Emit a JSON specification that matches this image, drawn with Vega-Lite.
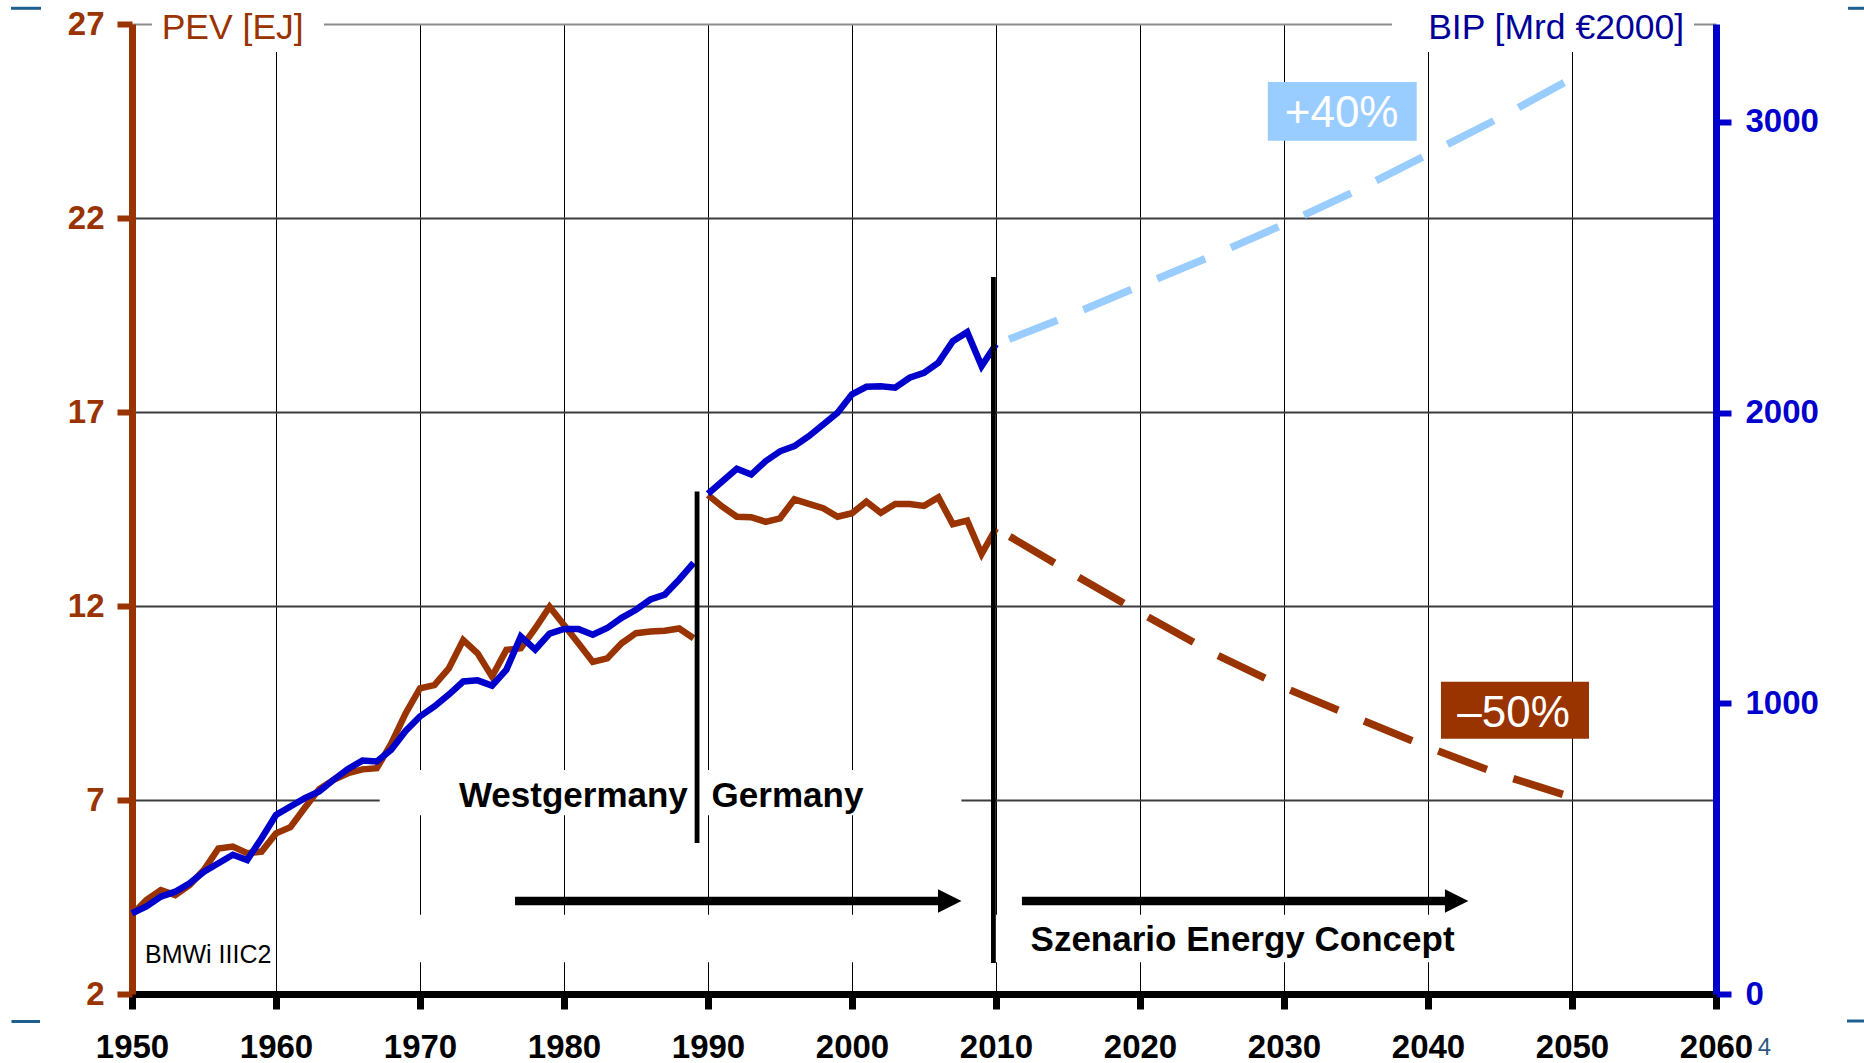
{
  "$schema": "https://vega.github.io/schema/vega-lite/v6.json",
  "width": 1584,
  "height": 970,
  "autosize": {"type": "none"},
  "padding": {"left": 132, "top": 24, "right": 148, "bottom": 69},
  "background": "white",
  "config": {"view": {"stroke": null}, "font": "Liberation Sans"},
  "datasets": {
    "pev": [
      {"year": 1950, "pev": 4.04, "seg": "West"}, {"year": 1951, "pev": 4.42, "seg": "West"}, {"year": 1952, "pev": 4.68, "seg": "West"}, {"year": 1953, "pev": 4.55, "seg": "West"}, {"year": 1954, "pev": 4.81, "seg": "West"},
      {"year": 1955, "pev": 5.2, "seg": "West"}, {"year": 1956, "pev": 5.75, "seg": "West"}, {"year": 1957, "pev": 5.8, "seg": "West"}, {"year": 1958, "pev": 5.63, "seg": "West"}, {"year": 1959, "pev": 5.67, "seg": "West"},
      {"year": 1960, "pev": 6.14, "seg": "West"}, {"year": 1961, "pev": 6.3, "seg": "West"}, {"year": 1962, "pev": 6.8, "seg": "West"}, {"year": 1963, "pev": 7.28, "seg": "West"}, {"year": 1964, "pev": 7.52, "seg": "West"},
      {"year": 1965, "pev": 7.69, "seg": "West"}, {"year": 1966, "pev": 7.79, "seg": "West"}, {"year": 1967, "pev": 7.82, "seg": "West"}, {"year": 1968, "pev": 8.45, "seg": "West"}, {"year": 1969, "pev": 9.23, "seg": "West"},
      {"year": 1970, "pev": 9.88, "seg": "West"}, {"year": 1971, "pev": 9.96, "seg": "West"}, {"year": 1972, "pev": 10.39, "seg": "West"}, {"year": 1973, "pev": 11.12, "seg": "West"}, {"year": 1974, "pev": 10.78, "seg": "West"},
      {"year": 1975, "pev": 10.18, "seg": "West"}, {"year": 1976, "pev": 10.87, "seg": "West"}, {"year": 1977, "pev": 10.91, "seg": "West"}, {"year": 1978, "pev": 11.42, "seg": "West"}, {"year": 1979, "pev": 11.98, "seg": "West"},
      {"year": 1980, "pev": 11.51, "seg": "West"}, {"year": 1981, "pev": 11.04, "seg": "West"}, {"year": 1982, "pev": 10.56, "seg": "West"}, {"year": 1983, "pev": 10.65, "seg": "West"}, {"year": 1984, "pev": 11.04, "seg": "West"},
      {"year": 1985, "pev": 11.3, "seg": "West"}, {"year": 1986, "pev": 11.34, "seg": "West"}, {"year": 1987, "pev": 11.36, "seg": "West"}, {"year": 1988, "pev": 11.42, "seg": "West"}, {"year": 1989, "pev": 11.17, "seg": "West"},
      {"year": 1990, "pev": 14.86, "seg": "Germany"}, {"year": 1991, "pev": 14.56, "seg": "Germany"}, {"year": 1992, "pev": 14.3, "seg": "Germany"}, {"year": 1993, "pev": 14.29, "seg": "Germany"}, {"year": 1994, "pev": 14.17, "seg": "Germany"},
      {"year": 1995, "pev": 14.26, "seg": "Germany"}, {"year": 1996, "pev": 14.75, "seg": "Germany"}, {"year": 1997, "pev": 14.63, "seg": "Germany"}, {"year": 1998, "pev": 14.52, "seg": "Germany"}, {"year": 1999, "pev": 14.3, "seg": "Germany"},
      {"year": 2000, "pev": 14.39, "seg": "Germany"}, {"year": 2001, "pev": 14.69, "seg": "Germany"}, {"year": 2002, "pev": 14.4, "seg": "Germany"}, {"year": 2003, "pev": 14.63, "seg": "Germany"}, {"year": 2004, "pev": 14.63, "seg": "Germany"},
      {"year": 2005, "pev": 14.58, "seg": "Germany"}, {"year": 2006, "pev": 14.8, "seg": "Germany"}, {"year": 2007, "pev": 14.11, "seg": "Germany"}, {"year": 2008, "pev": 14.2, "seg": "Germany"}, {"year": 2009, "pev": 13.34, "seg": "Germany"},
      {"year": 2010, "pev": 14.0, "seg": "Germany"},
      {"year": 2010, "pev": 14.0, "seg": "Scenario"}, {"year": 2015, "pev": 12.9, "seg": "Scenario"}, {"year": 2020, "pev": 11.83, "seg": "Scenario"}, {"year": 2025, "pev": 10.8, "seg": "Scenario"}, {"year": 2030, "pev": 9.9, "seg": "Scenario"},
      {"year": 2035, "pev": 9.12, "seg": "Scenario"}, {"year": 2040, "pev": 8.36, "seg": "Scenario"}, {"year": 2045, "pev": 7.66, "seg": "Scenario"}, {"year": 2050, "pev": 7.07, "seg": "Scenario"}
    ],
    "bip": [
      {"year": 1950, "bip": 278, "seg": "West"}, {"year": 1951, "bip": 301, "seg": "West"}, {"year": 1952, "bip": 335, "seg": "West"}, {"year": 1953, "bip": 352, "seg": "West"}, {"year": 1954, "bip": 381, "seg": "West"},
      {"year": 1955, "bip": 421, "seg": "West"}, {"year": 1956, "bip": 450, "seg": "West"}, {"year": 1957, "bip": 479, "seg": "West"}, {"year": 1958, "bip": 461, "seg": "West"}, {"year": 1959, "bip": 536, "seg": "West"},
      {"year": 1960, "bip": 616, "seg": "West"}, {"year": 1961, "bip": 645, "seg": "West"}, {"year": 1962, "bip": 674, "seg": "West"}, {"year": 1963, "bip": 697, "seg": "West"}, {"year": 1964, "bip": 737, "seg": "West"},
      {"year": 1965, "bip": 774, "seg": "West"}, {"year": 1966, "bip": 803, "seg": "West"}, {"year": 1967, "bip": 800, "seg": "West"}, {"year": 1968, "bip": 840, "seg": "West"}, {"year": 1969, "bip": 905, "seg": "West"},
      {"year": 1970, "bip": 955, "seg": "West"}, {"year": 1971, "bip": 989, "seg": "West"}, {"year": 1972, "bip": 1030, "seg": "West"}, {"year": 1973, "bip": 1075, "seg": "West"}, {"year": 1974, "bip": 1079, "seg": "West"},
      {"year": 1975, "bip": 1061, "seg": "West"}, {"year": 1976, "bip": 1116, "seg": "West"}, {"year": 1977, "bip": 1230, "seg": "West"}, {"year": 1978, "bip": 1185, "seg": "West"}, {"year": 1979, "bip": 1240, "seg": "West"},
      {"year": 1980, "bip": 1256, "seg": "West"}, {"year": 1981, "bip": 1256, "seg": "West"}, {"year": 1982, "bip": 1236, "seg": "West"}, {"year": 1983, "bip": 1259, "seg": "West"}, {"year": 1984, "bip": 1294, "seg": "West"},
      {"year": 1985, "bip": 1322, "seg": "West"}, {"year": 1986, "bip": 1357, "seg": "West"}, {"year": 1987, "bip": 1374, "seg": "West"}, {"year": 1988, "bip": 1426, "seg": "West"}, {"year": 1989, "bip": 1483, "seg": "West"},
      {"year": 1990, "bip": 1721, "seg": "Germany"}, {"year": 1991, "bip": 1764, "seg": "Germany"}, {"year": 1992, "bip": 1807, "seg": "Germany"}, {"year": 1993, "bip": 1787, "seg": "Germany"}, {"year": 1994, "bip": 1833, "seg": "Germany"},
      {"year": 1995, "bip": 1867, "seg": "Germany"}, {"year": 1996, "bip": 1885, "seg": "Germany"}, {"year": 1997, "bip": 1919, "seg": "Germany"}, {"year": 1998, "bip": 1959, "seg": "Germany"}, {"year": 1999, "bip": 2000, "seg": "Germany"},
      {"year": 2000, "bip": 2063, "seg": "Germany"}, {"year": 2001, "bip": 2089, "seg": "Germany"}, {"year": 2002, "bip": 2091, "seg": "Germany"}, {"year": 2003, "bip": 2086, "seg": "Germany"}, {"year": 2004, "bip": 2120, "seg": "Germany"},
      {"year": 2005, "bip": 2137, "seg": "Germany"}, {"year": 2006, "bip": 2172, "seg": "Germany"}, {"year": 2007, "bip": 2246, "seg": "Germany"}, {"year": 2008, "bip": 2277, "seg": "Germany"}, {"year": 2009, "bip": 2160, "seg": "Germany"},
      {"year": 2010, "bip": 2235, "seg": "Germany"},
      {"year": 2010, "bip": 2235, "seg": "Scenario"}, {"year": 2015, "bip": 2332, "seg": "Scenario"}, {"year": 2020, "bip": 2436, "seg": "Scenario"}, {"year": 2025, "bip": 2539, "seg": "Scenario"}, {"year": 2030, "bip": 2648, "seg": "Scenario"},
      {"year": 2035, "bip": 2763, "seg": "Scenario"}, {"year": 2040, "bip": 2889, "seg": "Scenario"}, {"year": 2045, "bip": 3015, "seg": "Scenario"}, {"year": 2050, "bip": 3150, "seg": "Scenario"}
    ]
  },
  "layer": [
    {
      "layer": [
        {
          "data": {"values": [
            {"x0": 1967.2, "x1": 2007.6, "y0": 7.77, "y1": 6.61},
            {"x0": 1967.2, "x1": 2043.3, "y0": 4.04, "y1": 2.82},
            {"x0": 1951.39, "x1": 1963.33, "y0": 27.3, "y1": 26.28},
            {"x0": 2037.5, "x1": 2058.47, "y0": 27.3, "y1": 26.28}
          ]},
          "mark": {"type": "rect", "fill": "white", "stroke": null},
          "encoding": {
            "x": {
              "field": "x0", "type": "quantitative", "title": null,
              "scale": {"domain": [1950, 2060], "nice": false, "zero": false},
              "axis": {
                "values": [1950, 1960, 1970, 1980, 1990, 2000, 2010, 2020, 2030, 2040, 2050, 2060],
                "format": "d", "title": null,
                "domainColor": "black", "domainWidth": 7, "domainCap": "square",
                "tickColor": "black", "tickWidth": 7, "tickSize": 15,
                "labelFont": "Liberation Sans", "labelFontSize": 33, "labelFontWeight": "bold", "labelColor": "black",
                "labelPadding": 22, "labelFlush": false, "labelOverlap": false,
                "grid": true, "gridWidth": 1, "gridOpacity": 1,
                "gridColor": {"condition": {"test": "datum.value == 1950 || datum.value == 2060", "value": "transparent"}, "value": "black"}
              }
            },
            "x2": {"field": "x1"},
            "y": {
              "field": "y0", "type": "quantitative", "title": null,
              "scale": {"domain": [2, 27], "nice": false, "zero": false},
              "axis": {
                "orient": "left", "values": [2, 7, 12, 17, 22, 27], "format": "d", "title": null,
                "domainColor": "#993300", "domainWidth": 7,
                "tickColor": "#993300", "tickWidth": 6, "tickSize": 15,
                "labelFont": "Liberation Sans", "labelFontSize": 33, "labelFontWeight": "bold", "labelColor": "#993300",
                "labelPadding": 13, "labelFlush": false, "labelOverlap": false,
                "grid": true, "gridWidth": 2, "gridOpacity": 1,
                "gridColor": {"condition": {"test": "datum.value == 27", "value": "#8c8c8c"}, "value": "#3c3c3c"}
              }
            },
            "y2": {"field": "y1"}
          }
        },
        {
          "data": {"name": "pev"},
          "transform": [{"filter": "datum.seg != 'Scenario'"}],
          "mark": {"type": "line", "stroke": "#993300", "strokeWidth": 6.5, "strokeMiterLimit": 4},
          "encoding": {
            "x": {"field": "year", "type": "quantitative", "title": null},
            "y": {"field": "pev", "type": "quantitative", "title": null},
            "detail": {"field": "seg"}
          }
        },
        {
          "data": {"name": "pev"},
          "transform": [{"filter": "datum.seg == 'Scenario'"}],
          "mark": {"type": "line", "stroke": "#993300", "strokeWidth": 7.5, "strokeDash": [52, 28], "strokeDashOffset": 64},
          "encoding": {
            "x": {"field": "year", "type": "quantitative", "title": null},
            "y": {"field": "pev", "type": "quantitative", "title": null}
          }
        },
        {
          "data": {"values": [{"x0": 2040.9, "x1": 2051.18, "y0": 10.05, "y1": 8.58}]},
          "mark": {"type": "rect", "fill": "#993300"},
          "encoding": {
            "x": {"field": "x0", "type": "quantitative", "title": null},
            "x2": {"field": "x1"},
            "y": {"field": "y0", "type": "quantitative", "title": null},
            "y2": {"field": "y1"}
          }
        },
        {
          "data": {"values": [{"x": 2045.94, "y": 8.889, "label": "–50%"}]},
          "mark": {"type": "text", "align": "center", "baseline": "alphabetic", "font": "Liberation Sans", "fontSize": 44, "color": "white"},
          "encoding": {
            "x": {"field": "x", "type": "quantitative", "title": null},
            "y": {"field": "y", "type": "quantitative", "title": null},
            "text": {"field": "label"}
          }
        }
      ]
    },
    {
      "layer": [
        {
          "data": {"name": "bip"},
          "transform": [{"filter": "datum.seg != 'Scenario'"}],
          "mark": {"type": "line", "stroke": "#0000CC", "strokeWidth": 6.5, "strokeMiterLimit": 4},
          "encoding": {
            "x": {"field": "year", "type": "quantitative", "title": null},
            "y": {
              "field": "bip", "type": "quantitative", "title": null,
              "scale": {"domain": [0, 3337], "nice": false, "zero": false},
              "axis": {
                "orient": "right", "values": [0, 1000, 2000, 3000], "format": "d", "title": null,
                "domainColor": "#0000CC", "domainWidth": 7,
                "tickColor": "#0000CC", "tickWidth": 6, "tickSize": 15,
                "labelFont": "Liberation Sans", "labelFontSize": 33, "labelFontWeight": "bold", "labelColor": "#0000CC",
                "labelPadding": 14, "labelFlush": false, "labelOverlap": false, "grid": false
              }
            },
            "detail": {"field": "seg"}
          }
        },
        {
          "data": {"name": "bip"},
          "transform": [{"filter": "datum.seg == 'Scenario'"}],
          "mark": {"type": "line", "stroke": "#99CCFF", "strokeWidth": 7.5, "strokeDash": [52, 28], "strokeDashOffset": 66},
          "encoding": {
            "x": {"field": "year", "type": "quantitative", "title": null},
            "y": {"field": "bip", "type": "quantitative", "title": null}
          }
        }
      ]
    },
    {
      "layer": [
        {
          "data": {"values": [{"x0": 2028.875, "x1": 2039.215, "y0": 25.505, "y1": 23.99}]},
          "mark": {"type": "rect", "fill": "#99CCFF"},
          "encoding": {
            "x": {"field": "x0", "type": "quantitative", "title": null},
            "x2": {"field": "x1"},
            "y": {"field": "y0", "type": "quantitative", "title": null, "axis": null, "scale": {"domain": [2, 27], "nice": false, "zero": false}},
            "y2": {"field": "y1"}
          }
        },
        {
          "data": {"values": [{"x": 2034.0, "y": 24.353, "label": "+40%"}]},
          "mark": {"type": "text", "align": "center", "baseline": "alphabetic", "font": "Liberation Sans", "fontSize": 44, "color": "white"},
          "encoding": {
            "x": {"field": "x", "type": "quantitative", "title": null},
            "y": {"field": "y", "type": "quantitative", "title": null},
            "text": {"field": "label"}
          }
        },
        {
          "data": {"values": [{"x": 1989.24, "y0": 14.95, "y1": 5.89}, {"x": 2009.82, "y0": 20.48, "y1": 2.8}]},
          "mark": {"type": "rule", "color": "black", "strokeWidth": 4.8},
          "encoding": {
            "x": {"field": "x", "type": "quantitative", "title": null},
            "y": {"field": "y0", "type": "quantitative", "title": null},
            "y2": {"field": "y1"}
          }
        },
        {
          "data": {"values": [{"x0": 1976.6, "x1": 2006.3, "y": 4.4}, {"x0": 2011.8, "x1": 2041.5, "y": 4.4}]},
          "mark": {"type": "rule", "color": "black", "strokeWidth": 8.5},
          "encoding": {
            "x": {"field": "x0", "type": "quantitative", "title": null},
            "x2": {"field": "x1"},
            "y": {"field": "y", "type": "quantitative", "title": null}
          }
        },
        {
          "data": {"values": [{"x": 2006.79, "y": 4.4}, {"x": 2041.99, "y": 4.4}]},
          "mark": {"type": "point", "shape": "M-1,-1L1,0L-1,1Z", "filled": true, "size": 552, "color": "black", "opacity": 1, "strokeWidth": 0},
          "encoding": {
            "x": {"field": "x", "type": "quantitative", "title": null},
            "y": {"field": "y", "type": "quantitative", "title": null}
          }
        },
        {
          "data": {"values": [{"x": 1988.6, "y": 6.83, "label": "Westgermany"}]},
          "mark": {"type": "text", "align": "right", "baseline": "alphabetic", "font": "Liberation Sans", "fontSize": 35, "fontWeight": "bold", "color": "black"},
          "encoding": {
            "x": {"field": "x", "type": "quantitative", "title": null},
            "y": {"field": "y", "type": "quantitative", "title": null},
            "text": {"field": "label"}
          }
        },
        {
          "data": {"values": [{"x": 1990.25, "y": 6.83, "label": "Germany"}, {"x": 2012.4, "y": 3.11, "label": "Szenario Energy Concept"}]},
          "mark": {"type": "text", "align": "left", "baseline": "alphabetic", "font": "Liberation Sans", "fontSize": 35, "fontWeight": "bold", "color": "black"},
          "encoding": {
            "x": {"field": "x", "type": "quantitative", "title": null},
            "y": {"field": "y", "type": "quantitative", "title": null},
            "text": {"field": "label"}
          }
        },
        {
          "data": {"values": [{"x": 1950.9, "y": 2.79, "label": "BMWi IIIC2"}]},
          "mark": {"type": "text", "align": "left", "baseline": "alphabetic", "font": "Liberation Sans", "fontSize": 25, "color": "black"},
          "encoding": {
            "x": {"field": "x", "type": "quantitative", "title": null},
            "y": {"field": "y", "type": "quantitative", "title": null},
            "text": {"field": "label"}
          }
        },
        {
          "data": {"values": [{"x": 1952.06, "y": 26.606, "label": "PEV [EJ]"}]},
          "mark": {"type": "text", "align": "left", "baseline": "alphabetic", "font": "Liberation Sans", "fontSize": 35.5, "color": "#993300"},
          "encoding": {
            "x": {"field": "x", "type": "quantitative", "title": null},
            "y": {"field": "y", "type": "quantitative", "title": null},
            "text": {"field": "label"}
          }
        },
        {
          "data": {"values": [{"x": 2057.78, "y": 26.606, "label": "BIP [Mrd €2000]"}]},
          "mark": {"type": "text", "align": "right", "baseline": "alphabetic", "font": "Liberation Sans", "fontSize": 35.5, "color": "#000099"},
          "encoding": {
            "x": {"field": "x", "type": "quantitative", "title": null},
            "y": {"field": "y", "type": "quantitative", "title": null},
            "text": {"field": "label"}
          }
        },
        {
          "data": {"values": [{"x": 2062.9, "y": 0.428, "label": "4"}]},
          "mark": {"type": "text", "align": "left", "baseline": "alphabetic", "font": "Liberation Sans", "fontSize": 24, "color": "#2E5A80"},
          "encoding": {
            "x": {"field": "x", "type": "quantitative", "title": null},
            "y": {"field": "y", "type": "quantitative", "title": null},
            "text": {"field": "label"}
          }
        },
        {
          "data": {"values": [
            {"x0": 1941.6, "x1": 1943.68, "y": 27.405},
            {"x0": 2069.17, "x1": 2070.3, "y": 27.405},
            {"x0": 1941.63, "x1": 1943.61, "y": 1.291},
            {"x0": 2069.1, "x1": 2070.3, "y": 1.304}
          ]},
          "mark": {"type": "rule", "color": "#1F5F8F", "strokeWidth": 3},
          "encoding": {
            "x": {"field": "x0", "type": "quantitative", "title": null},
            "x2": {"field": "x1"},
            "y": {"field": "y", "type": "quantitative", "title": null}
          }
        }
      ]
    }
  ],
  "resolve": {"scale": {"y": "independent"}}
}
